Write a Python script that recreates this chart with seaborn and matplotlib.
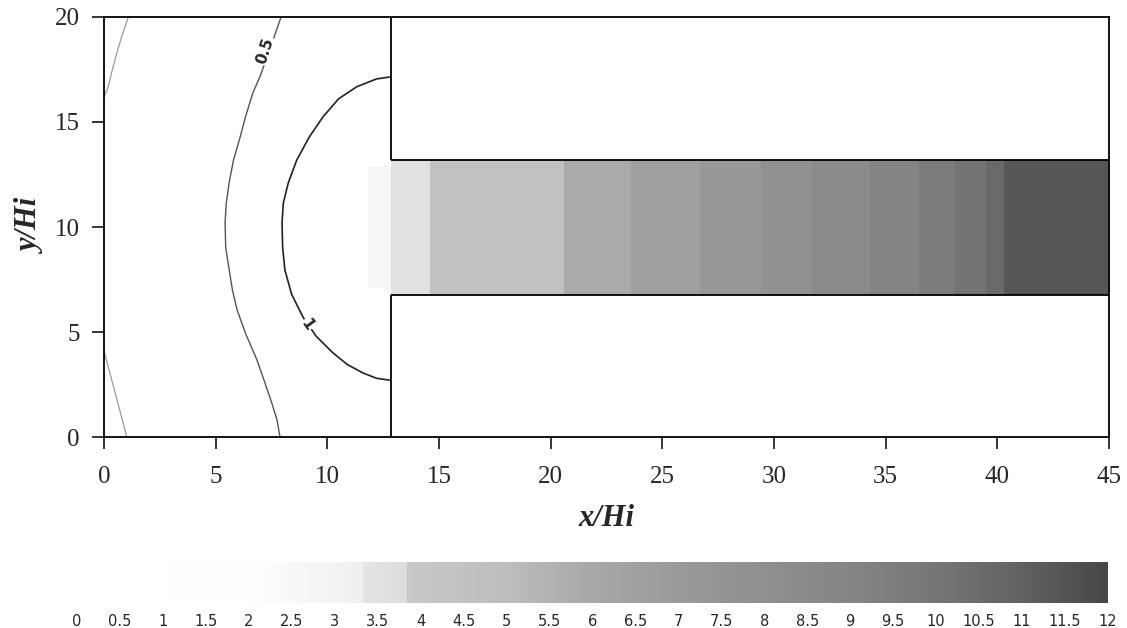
import numpy as np
import seaborn as sns
import matplotlib.pyplot as plt
from matplotlib.colors import LinearSegmentedColormap, Normalize

# channel (x > 12.85) concentration bands
band_edges = [12.85, 14.6, 20.6, 23.6, 26.7, 29.4, 31.7, 34.3, 36.5, 38.1, 39.5, 40.3, 45.0]
band_values = [3.5, 4.6, 5.9, 6.6, 7.2, 7.8, 8.4, 9.0, 9.6, 10.1, 10.6, 11.4]
channel_x0 = 12.85
channel_y = [6.75, 13.2]

# faint haze just left of the channel entrance
haze_x = [11.8, 12.85]
haze_y = [7.1, 12.9]
haze_value = 2.6

# contour lines in the open region
c05_x = [7.93, 7.6, 7.3, 7.0, 6.67, 6.35, 6.1, 5.8, 5.6, 5.47, 5.42, 5.45, 5.6, 5.75, 5.96,
         6.35, 6.85, 7.2, 7.52, 7.75, 7.88]
c05_y = [20.0, 19.0, 18.1, 17.2, 16.4, 15.3, 14.3, 13.2, 12.1, 11.1, 10.2, 9.0, 8.0, 7.0, 6.05,
         4.9, 3.67, 2.6, 1.6, 0.8, 0.0]
c1_x = [12.85, 12.2, 11.32, 10.5, 9.81, 9.2, 8.63, 8.25, 8.03, 7.97, 8.0, 8.1, 8.4, 8.91,
        9.5, 10.26, 10.9, 11.6, 12.2, 12.85]
c1_y = [17.15, 17.05, 16.68, 16.1, 15.25, 14.3, 13.19, 12.1, 11.14, 10.19, 9.0, 7.95, 6.8, 5.71,
        4.8, 4.0, 3.45, 3.05, 2.8, 2.7]
cl_top_x = [1.09, 0.8, 0.57, 0.35, 0.19, 0.0]
cl_top_y = [20.0, 19.1, 18.27, 17.4, 16.68, 16.2]
cl_bot_x = [0.0, 0.15, 0.3, 0.45, 0.6, 0.8, 1.02]
cl_bot_y = [4.1, 3.5, 2.9, 2.3, 1.7, 0.9, 0.0]

cbar_ticks = np.arange(0, 12.01, 0.5)
x_ticks = [0, 5, 10, 15, 20, 25, 30, 35, 40, 45]
y_ticks = [0, 5, 10, 15, 20]

sns.set_theme(style="ticks")
plt.rcParams['font.family'] = ['Liberation Serif', 'DejaVu Serif']

cmap = LinearSegmentedColormap.from_list("conc", [
    (0.0, "#ffffff"), (2.0 / 12, "#fefefe"), (3.3 / 12, "#efefef"),
    (3.3 / 12, "#e4e4e4"), (3.85 / 12, "#dcdcdc"), (3.85 / 12, "#c8c8c8"),
    (5.0 / 12, "#bdbdbd"), (6.0 / 12, "#a8a8a8"), (7.0 / 12, "#9a9a9a"),
    (8.0 / 12, "#8f8f8f"), (9.0 / 12, "#858585"), (10.0 / 12, "#767676"),
    (11.0 / 12, "#626262"), (1.0, "#474747")])
norm = Normalize(0, 12)

fig = plt.figure(figsize=(11.27, 6.28), dpi=100)
ax = fig.add_axes([0.0923, 0.304, 0.8917, 0.669])
cax = fig.add_axes([0.0683, 0.040, 0.9147, 0.065])

mesh = ax.pcolormesh(band_edges, channel_y, [band_values], cmap=cmap, norm=norm, shading="flat")
ax.pcolormesh(haze_x, haze_y, [[haze_value]], cmap=cmap, norm=norm, shading="flat")

# channel walls
ax.vlines(channel_x0, channel_y[1], 20, color="black", lw=1.3)
ax.vlines(channel_x0, 0, channel_y[0], color="black", lw=1.3)
ax.hlines(channel_y, channel_x0, 45, color="black", lw=1.3)

sns.lineplot(x=cl_top_x, y=cl_top_y, sort=False, estimator=None, color="#9a9a9a", lw=0.9, ax=ax)
sns.lineplot(x=cl_bot_x, y=cl_bot_y, sort=False, estimator=None, color="#9a9a9a", lw=0.9, ax=ax)
sns.lineplot(x=c05_x, y=c05_y, sort=False, estimator=None, color="#555555", lw=1.0, ax=ax)
sns.lineplot(x=c1_x, y=c1_y, sort=False, estimator=None, color="#222222", lw=1.2, ax=ax)

lab_kw = dict(family="DejaVu Sans", fontweight="bold", fontsize=11, ha="center", va="center",
              bbox=dict(facecolor="white", edgecolor="none", pad=0.5))
ax.text(7.2, 18.4, "0.5", rotation=72, **lab_kw)
ax.text(9.1, 5.35, "1", rotation=-55, **lab_kw)

ax.set_xlim(0, 45)
ax.set_ylim(0, 20)
ax.set_xticks(x_ticks)
ax.set_yticks(y_ticks)
for s in ax.spines.values():
    s.set_color("black")
    s.set_linewidth(1.3)
ax.tick_params(axis="x", direction="out", length=8.5, width=1.1, color="black", pad=12, labelsize=18)
ax.tick_params(axis="y", direction="out", length=8.5, width=1.1, color="black", pad=9, labelsize=18)
ax.set_xlabel("x/Hi", fontsize=22, fontweight="bold", style="italic", labelpad=12)
ax.set_ylabel("y/Hi", fontsize=22, fontweight="bold", style="italic", labelpad=6)

cb = fig.colorbar(mesh, cax=cax, orientation="horizontal", ticks=cbar_ticks)
cb.outline.set_visible(False)
cb.ax.set_xticklabels([f"{t:g}" for t in cbar_ticks], family="DejaVu Sans", fontsize=10.5)
cb.ax.tick_params(length=0, pad=8)

fig.savefig("out.png", dpi=100)
